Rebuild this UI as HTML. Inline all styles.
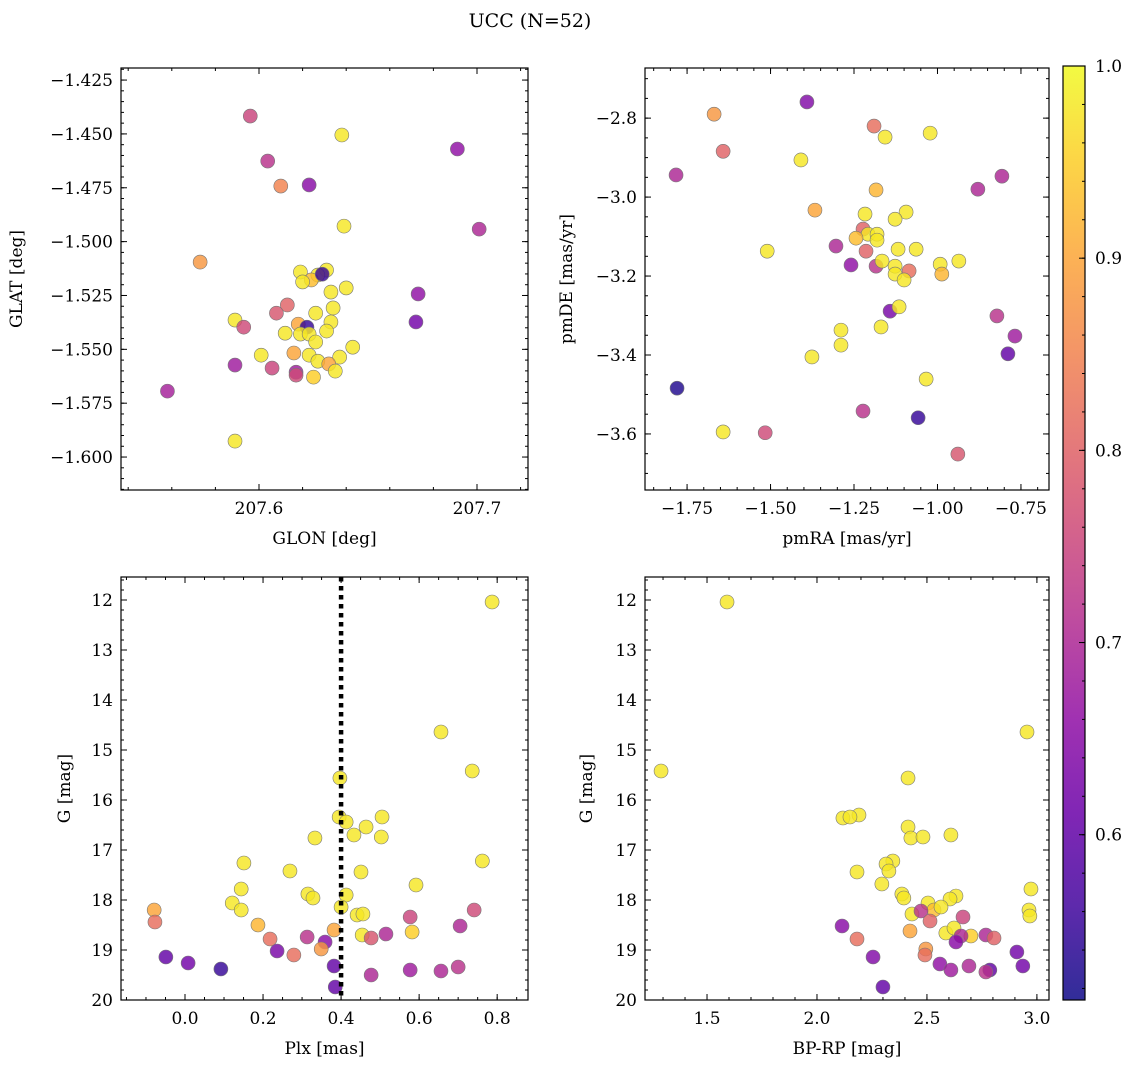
<!DOCTYPE html>
<html><head><meta charset="utf-8"><style>
body{margin:0;background:#fff;}
svg text{font-family:"DejaVu Serif","Liberation Serif",serif;fill:#000;}
</style></head><body>
<svg id="fig" width="1136" height="1067" viewBox="0 0 1136 1067" xmlns="http://www.w3.org/2000/svg">
<text x="530" y="27" font-size="19" text-anchor="middle">UCC (N=52)</text>
</svg>
<script>
// ---- data (per panel) ----
const glon=[207.596,207.604,207.610,207.623,207.638,207.691,207.639,207.701,207.573,207.619,207.631,207.627,207.624,207.620,207.640,207.633,207.613,207.608,207.626,207.634,207.673,207.589,207.593,207.618,207.633,207.622,207.612,207.619,207.623,207.631,207.672,207.626,207.616,207.623,207.627,207.643,207.637,207.632,207.635,207.625,207.617,207.617,207.606,207.589,207.601,207.558,207.589,207.629];
const glat=[-1.4417,-1.4626,-1.4742,-1.4737,-1.4505,-1.4570,-1.4928,-1.4942,-1.5095,-1.5141,-1.5132,-1.5155,-1.5178,-1.5187,-1.5215,-1.5234,-1.5294,-1.5332,-1.5332,-1.5308,-1.5243,-1.5364,-1.5397,-1.5383,-1.5373,-1.5397,-1.5425,-1.5429,-1.5429,-1.5415,-1.5373,-1.5466,-1.5517,-1.5527,-1.5555,-1.5490,-1.5536,-1.5568,-1.5601,-1.5629,-1.5606,-1.5620,-1.5587,-1.5573,-1.5527,-1.5694,-1.5926,-1.5151];
const probA=[0.75,0.72,0.85,0.65,0.98,0.66,0.98,0.70,0.88,0.98,0.98,0.98,0.93,0.98,0.98,0.98,0.80,0.78,0.98,0.98,0.66,0.98,0.76,0.90,0.98,0.55,0.98,0.98,0.98,0.98,0.62,0.98,0.90,0.98,0.98,0.98,0.98,0.90,0.98,0.95,0.68,0.76,0.75,0.68,0.98,0.69,0.98,0.55];
const pmra=[-1.391,-1.669,-1.190,-1.157,-1.022,-1.642,-1.783,-1.409,-1.184,-0.879,-0.807,-1.367,-1.217,-1.094,-1.127,-1.223,-1.208,-1.181,-1.244,-1.181,-1.510,-1.304,-1.214,-1.118,-1.064,-1.259,-1.184,-1.166,-1.127,-1.127,-1.085,-1.100,-0.992,-0.987,-0.936,-1.142,-1.115,-1.169,-1.289,-0.822,-0.768,-0.789,-1.376,-1.289,-1.034,-1.780,-1.642,-1.223,-1.058,-1.516,-0.939];
const pmde=[-2.759,-2.790,-2.820,-2.848,-2.838,-2.884,-2.944,-2.906,-2.982,-2.980,-2.947,-3.033,-3.043,-3.038,-3.056,-3.081,-3.094,-3.094,-3.104,-3.109,-3.137,-3.124,-3.137,-3.132,-3.132,-3.172,-3.175,-3.162,-3.175,-3.195,-3.187,-3.210,-3.170,-3.195,-3.162,-3.289,-3.278,-3.329,-3.337,-3.301,-3.352,-3.397,-3.405,-3.375,-3.461,-3.484,-3.595,-3.542,-3.559,-3.597,-3.651];
const probB=[0.64,0.88,0.82,0.98,0.98,0.80,0.70,0.98,0.92,0.70,0.70,0.90,0.98,0.98,0.98,0.80,0.98,0.98,0.93,0.98,0.98,0.70,0.80,0.98,0.98,0.66,0.72,0.98,0.98,0.98,0.82,0.98,0.98,0.92,0.98,0.63,0.98,0.98,0.98,0.72,0.68,0.60,0.98,0.98,0.98,0.53,0.98,0.72,0.55,0.76,0.78];
const plx=[0.787,0.656,0.736,0.397,0.762,0.395,0.413,0.505,0.333,0.433,0.464,0.503,0.151,0.269,0.451,0.592,0.144,0.121,-0.079,0.144,0.315,0.328,0.413,0.400,0.441,0.456,0.741,0.577,0.187,-0.077,0.705,0.582,0.382,0.454,0.515,0.477,0.313,0.218,0.359,0.349,0.279,0.236,-0.049,0.008,0.092,0.382,0.577,0.656,0.700,0.477,0.385];
const gmagC=[12.04,14.64,15.42,15.56,17.22,16.34,16.44,16.34,16.76,16.70,16.54,16.74,17.26,17.42,17.44,17.70,17.78,18.06,18.20,18.20,17.88,17.96,17.90,18.14,18.30,18.28,18.20,18.34,18.50,18.44,18.52,18.64,18.60,18.70,18.68,18.76,18.74,18.78,18.84,18.98,19.10,19.02,19.14,19.26,19.38,19.32,19.40,19.42,19.34,19.50,19.74];
const probC=[0.98,0.98,0.98,0.98,0.98,0.98,0.98,0.98,0.98,0.98,0.98,0.98,0.98,0.98,0.98,0.98,0.98,0.98,0.90,0.98,0.98,0.98,0.98,0.98,0.98,0.98,0.76,0.75,0.92,0.82,0.70,0.95,0.90,0.98,0.70,0.78,0.72,0.82,0.65,0.88,0.82,0.63,0.60,0.62,0.55,0.60,0.68,0.70,0.72,0.70,0.60];
const bprp=[1.591,2.955,1.291,2.414,2.191,2.118,2.150,2.414,2.427,2.482,2.609,2.345,2.314,2.327,2.182,2.295,2.973,2.386,2.395,2.632,2.605,2.505,2.532,2.564,2.964,2.968,2.432,2.473,2.514,2.664,2.114,2.423,2.586,2.623,2.700,2.655,2.768,2.805,2.632,2.182,2.495,2.491,2.255,2.909,2.559,2.609,2.691,2.786,2.768,2.936,2.300];
const gmagD=[12.04,14.64,15.42,15.56,16.30,16.36,16.34,16.54,16.76,16.74,16.70,17.22,17.28,17.42,17.44,17.68,17.78,17.88,17.96,17.92,17.98,18.06,18.20,18.14,18.20,18.32,18.28,18.22,18.42,18.34,18.52,18.62,18.66,18.56,18.72,18.72,18.70,18.76,18.84,18.78,18.98,19.10,19.14,19.04,19.28,19.40,19.32,19.40,19.44,19.32,19.74];
const probD=[0.98,0.98,0.98,0.98,0.98,0.98,0.98,0.98,0.98,0.98,0.98,0.98,0.98,0.98,0.98,0.98,0.98,0.98,0.98,0.98,0.98,0.98,0.93,0.98,0.98,0.98,0.98,0.72,0.80,0.75,0.65,0.90,0.98,0.98,0.95,0.70,0.70,0.80,0.65,0.82,0.88,0.82,0.64,0.62,0.66,0.68,0.70,0.60,0.72,0.62,0.60];
const ticksA_x=[207.6,207.7], ticksA_y=[-1.425,-1.45,-1.475,-1.5,-1.525,-1.55,-1.575,-1.6];
const ticksB_x=[-1.75,-1.5,-1.25,-1.0,-0.75], ticksB_y=[-2.8,-3.0,-3.2,-3.4,-3.6];
const ticksC_x=[0.0,0.2,0.4,0.6,0.8], ticksG=[12,13,14,15,16,17,18,19,20];
const ticksD_x=[1.5,2.0,2.5,3.0];
const cbTicks=[0.6,0.7,0.8,0.9,1.0];
const plxCut=[0.4];
const VMIN=0.514, VMAX=1.0;

const NS="http://www.w3.org/2000/svg";
const svg=document.getElementById('fig');
function mk(tag,attrs,parent){const e=document.createElementNS(NS,tag);for(const k in attrs)e.setAttribute(k,attrs[k]);(parent||svg).appendChild(e);return e;}
const stops=[[0,'#0d0887'],[0.1,'#41049d'],[0.2,'#6a00a8'],[0.3,'#8f0da4'],[0.4,'#b12a90'],[0.5,'#cc4778'],[0.6,'#e16462'],[0.7,'#f2844b'],[0.8,'#fca636'],[0.9,'#fcce25'],[1,'#f0f921']];
function hx(h){return [1,3,5].map(i=>parseInt(h.substr(i,2),16));}
function plasma(v){let t=(v-VMIN)/(VMAX-VMIN);t=Math.max(0,Math.min(1,t));
 for(let i=0;i<stops.length-1;i++){if(t<=stops[i+1][0]){const f=(t-stops[i][0])/(stops[i+1][0]-stops[i][0]);const a=hx(stops[i][1]),b=hx(stops[i+1][1]);return 'rgb('+a.map((c,j)=>Math.round(c+(b[j]-c)*f)).join(',')+')';}}
 return stops[10][1];}
function fmt(v,d){return (v<0?'\u2212':'')+Math.abs(v).toFixed(d);}

function panel(o){
 const g=mk('g',{});
 
 
 const sx=v=>o.L+(v-o.x0)/(o.x1-o.x0)*(o.R-o.L);
 const sy=v=>o.T+(v-o.y0)/(o.y1-o.y0)*(o.B-o.T);
 const tg=mk('g',{stroke:'#000','stroke-width':1},g);
 const minor=(lo,hi,step)=>{const a=[];for(let v=Math.ceil(lo/step-1e-6)*step;v<=hi+1e-9;v+=step)a.push(v);return a;};
 const xl=Math.min(o.x0,o.x1),xh=Math.max(o.x0,o.x1),yl=Math.min(o.y0,o.y1),yh=Math.max(o.y0,o.y1);
 minor(xl,xh,o.xm).forEach(v=>{const x=sx(v);mk('line',{x1:x,x2:x,y1:o.B,y2:o.B-3},tg);mk('line',{x1:x,x2:x,y1:o.T,y2:o.T+3},tg);});
 minor(yl,yh,o.ym).forEach(v=>{const y=sy(v);mk('line',{x1:o.L,x2:o.L+3,y1:y,y2:y},tg);mk('line',{x1:o.R,x2:o.R-3,y1:y,y2:y},tg);});
 o.xt.forEach(v=>{const x=sx(v);mk('line',{x1:x,x2:x,y1:o.B,y2:o.B-6},tg);mk('line',{x1:x,x2:x,y1:o.T,y2:o.T+6},tg);
  const t=mk('text',{x:x,y:o.B+24,'font-size':17,'text-anchor':'middle'},g);t.textContent=fmt(v,o.xd);
  
  });
 o.yt.forEach(v=>{const y=sy(v);mk('line',{x1:o.L,x2:o.L+6,y1:y,y2:y},tg);mk('line',{x1:o.R,x2:o.R-6,y1:y,y2:y},tg);
  const t=mk('text',{x:o.L-8,y:y+6,'font-size':17,'text-anchor':'end'},g);t.textContent=fmt(v,o.yd);
  
  });
 o.xs.forEach((v,i)=>{const c=mk('circle',{cx:sx(v),cy:sy(o.ys[i]),r:7,fill:plasma(o.p[i]),'fill-opacity':0.82,stroke:'#777','stroke-width':0.6},g);
  
  });
 if(o.vline){o.vline.forEach(v=>{const l=mk('line',{x1:sx(v),x2:sx(v),y1:o.T,y2:o.B,stroke:'#000','stroke-width':4.5,'stroke-dasharray':'4.5,4.5'},g);
  
  });}
 mk('rect',{x:o.L,y:o.T,width:o.R-o.L,height:o.B-o.T,fill:'none',stroke:'#000','stroke-width':1.2},g);
 const xl_=mk('text',{x:(o.L+o.R)/2,y:o.B+54,'font-size':17,'text-anchor':'middle'},g);xl_.textContent=o.xlab;
 
 
 const yx=o.ylx, yy=(o.T+o.B)/2;
 const yl_=mk('text',{x:yx,y:yy,'font-size':17,'text-anchor':'middle',transform:`rotate(-90 ${yx} ${yy})`},g);yl_.textContent=o.ylab;
 
 
}
panel({name:'glon-glat-panel',L:121,R:528,T:68,B:490,x0:207.5367,x1:207.7234,y0:-1.4194,y1:-1.6153,xm:0.02,ym:0.005,xt:ticksA_x,yt:ticksA_y,xd:1,yd:3,xs:glon,ys:glat,p:probA,xlab:'GLON [deg]',ylab:'GLAT [deg]',ylx:22});
panel({name:'proper-motion-panel',L:645,R:1049,T:68,B:490,x0:-1.876,x1:-0.666,y0:-2.673,y1:-3.742,xm:0.05,ym:0.05,xt:ticksB_x,yt:ticksB_y,xd:2,yd:1,xs:pmra,ys:pmde,p:probB,xlab:'pmRA [mas/yr]',ylab:'pmDE [mas/yr]',ylx:572});
panel({name:'plx-g-panel',L:121,R:528,T:577,B:1000,x0:-0.164,x1:0.879,y0:11.54,y1:20,xm:0.05,ym:0.2,xt:ticksC_x,yt:ticksG,xd:1,yd:0,xs:plx,ys:gmagC,p:probC,xlab:'Plx [mas]',ylab:'G [mag]',ylx:70,vline:plxCut});
panel({name:'cmd-panel',L:645,R:1049,T:577,B:1000,x0:1.218,x1:3.055,y0:11.54,y1:20,xm:0.1,ym:0.2,xt:ticksD_x,yt:ticksG,xd:1,yd:0,xs:bprp,ys:gmagD,p:probD,xlab:'BP-RP [mag]',ylab:'G [mag]',ylx:592});

// colorbar
const cb=mk('g',{});


const defs=mk('defs',{},svg);
const lg=mk('linearGradient',{id:'cbg',x1:0,y1:1,x2:0,y2:0},defs);
for(let i=0;i<=20;i++){const v=VMIN+(VMAX-VMIN)*i/20;mk('stop',{offset:i/20,'stop-color':plasma(v),'stop-opacity':0.85},lg);}
const CT=66,CB=1000,CL=1063,CR=1085;
mk('rect',{x:CL,y:CT,width:CR-CL,height:CB-CT,fill:'url(#cbg)',stroke:'#000','stroke-width':1.2},cb);
const cy=v=>CB-(v-VMIN)/(VMAX-VMIN)*(CB-CT);
for(let v=0.52;v<=1.0001;v+=0.02){mk('line',{x1:CR,x2:CR-3,y1:cy(v),y2:cy(v),stroke:'#000'},cb);}
cbTicks.forEach(v=>{mk('line',{x1:CR,x2:CR-6,y1:cy(v),y2:cy(v),stroke:'#000'},cb);
 const t=mk('text',{x:CR+10,y:cy(v)+6,'font-size':17},cb);t.textContent=v.toFixed(1);
 
 });
</script>
</body></html>
